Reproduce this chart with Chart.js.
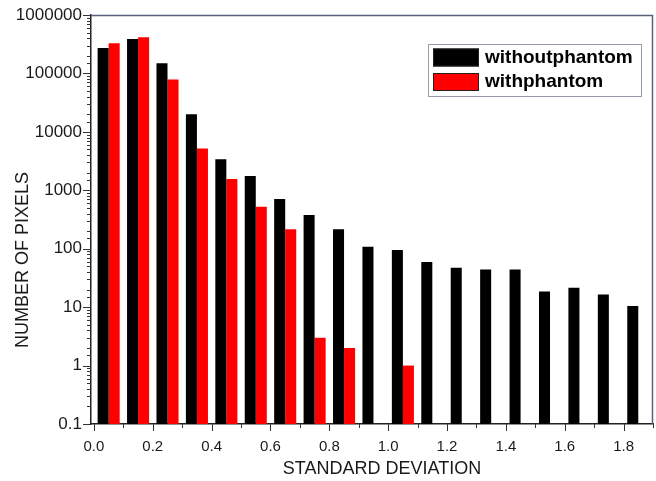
<!DOCTYPE html>
<html>
<head>
<meta charset="utf-8">
<script src="https://cdn.jsdelivr.net/npm/chart.js@4.4.1/dist/chart.umd.min.js"></script>
<style>
  html, body { margin: 0; padding: 0; background: #ffffff; }
  #wrap { width: 656px; height: 481px; position: relative; }
</style>
</head>
<body>
<div id="wrap"><canvas id="c" width="656" height="481"></canvas></div>
<script>
// ---- data ----
const categories = [0.05, 0.15, 0.25, 0.35, 0.45, 0.55, 0.65, 0.75, 0.85, 0.95,
                    1.05, 1.15, 1.25, 1.35, 1.45, 1.55, 1.65, 1.75, 1.85];
const withoutPhantom = [272000, 388000, 149000, 20000, 3400, 1750, 710, 378, 215, 108,
                        95, 59, 47, 44, 44, 18.5, 21.5, 16.5, 10.5];
const withPhantom = [327000, 415000, 79000, 5200, 1560, 525, 215, 3, 2, null,
                     1, null, null, null, null, null, null, null, null];
const seriesLabels = ['withoutphantom', 'withphantom'];
const yTickValues = [0.1, 1, 10, 100, 1000, 10000, 100000, 1000000];
const xTickLabels = ['0.0', '0.2', '0.4', '0.6', '0.8', '1.0', '1.2', '1.4', '1.6', '1.8'];
const xTitle = 'STANDARD DEVIATION';
const yTitle = 'NUMBER OF PIXELS';

const FONT = "'Liberation Sans', Arial, Helvetica, sans-serif";

function toPoints(vals) {
  return categories.map((c, i) => ({ x: c, y: vals[i] }));
}
function isMajorY(v) {
  return yTickValues.some(t => Math.abs(t - v) < t * 1e-6);
}
function xLabelFor(v) {
  const l = xTickLabels.find(s => Math.abs(parseFloat(s) - v) < 1e-6);
  return l === undefined ? null : l;
}

const decorPlugin = {
  id: 'decor',
  afterDraw(chart) {
    const ctx = chart.ctx;
    const a = chart.chartArea;
    const xs = chart.scales.x, ys = chart.scales.y;
    ctx.save();
    // frame (top & right)
    ctx.strokeStyle = '#5a5f7e';
    ctx.lineWidth = 1.5;
    ctx.beginPath();
    ctx.moveTo(a.left, a.top + 0.5);
    ctx.lineTo(a.right - 0.5, a.top + 0.5);
    ctx.lineTo(a.right - 0.5, a.bottom);
    ctx.stroke();
    // tick marks
    ctx.strokeStyle = '#333';
    ctx.lineWidth = 1;
    ctx.beginPath();
    ys.ticks.forEach(t => {
      const py = Math.round(ys.getPixelForValue(t.value)) + 0.5;
      const len = isMajorY(t.value) ? 8 : 4;
      ctx.moveTo(a.left, py);
      ctx.lineTo(a.left - len, py);
    });
    xs.ticks.forEach(t => {
      if (t.value < 0) return;
      const px = Math.round(xs.getPixelForValue(t.value)) + 0.5;
      const len = xLabelFor(t.value) !== null ? 7 : 4;
      ctx.moveTo(px, a.bottom);
      ctx.lineTo(px, a.bottom + len);
    });
    ctx.stroke();
    // axis titles
    ctx.fillStyle = '#1a1a1a';
    ctx.font = '18px ' + FONT;
    ctx.textAlign = 'center';
    ctx.textBaseline = 'middle';
    ctx.fillText(xTitle, 382, 469);
    ctx.save();
    ctx.translate(23, 260);
    ctx.rotate(-Math.PI / 2);
    ctx.fillText(yTitle, 0, 0);
    ctx.restore();
    // legend
    const bx = a.right - 225, by = a.top + 29, bw = 213, bh = 52;
    ctx.fillStyle = '#ffffff';
    ctx.fillRect(bx, by, bw, bh);
    ctx.strokeStyle = '#9a9aae';
    ctx.lineWidth = 1;
    ctx.strokeRect(bx + 0.5, by + 0.5, bw, bh);
    ctx.font = 'bold 19px ' + FONT;
    ctx.textAlign = 'left';
    ctx.textBaseline = 'middle';
    chart.data.datasets.forEach((ds, i) => {
      const sy = by + 4.5 + i * 24.5;
      ctx.fillStyle = ds.backgroundColor;
      ctx.fillRect(bx + 5, sy, 46, 18);
      ctx.strokeStyle = '#222';
      ctx.strokeRect(bx + 5.5, sy + 0.5, 45, 17);
      ctx.fillStyle = '#000';
      ctx.fillText(ds.label, bx + 57, sy + 9);
    });
    ctx.restore();
  }
};

new Chart(document.getElementById('c'), {
  type: 'bar',
  data: {
    datasets: [
      { label: seriesLabels[0], data: toPoints(withoutPhantom), backgroundColor: '#000000',
        borderWidth: 0, categoryPercentage: 0.75, barPercentage: 1.0 },
      { label: seriesLabels[1], data: toPoints(withPhantom), backgroundColor: '#ff0000',
        borderWidth: 0, categoryPercentage: 0.75, barPercentage: 1.0 }
    ]
  },
  options: {
    responsive: false,
    animation: false,
    layout: { padding: { top: 15, right: 3, left: 0, bottom: 0 } },
    plugins: { legend: { display: false }, tooltip: { enabled: false } },
    scales: {
      x: {
        type: 'linear',
        min: -0.01,
        max: 1.9,
        offset: false,
        grid: { display: false, drawTicks: false },
        border: { display: true, color: '#222', width: 1.5 },
        ticks: {
          stepSize: 0.1,
          includeBounds: false,
          autoSkip: false,
          maxRotation: 0,
          padding: 14,
          color: '#1a1a1a',
          font: { family: FONT, size: 15 },
          callback: (v) => { const l = xLabelFor(v); return l === null ? '' : l; }
        },
        afterFit: (s) => { s.height = 57; s.paddingLeft = 0; s.paddingRight = 0; }
      },
      y: {
        type: 'logarithmic',
        min: 0.1,
        max: 1000000,
        grid: { display: false, drawTicks: false },
        border: { display: true, color: '#222', width: 1.5 },
        ticks: {
          autoSkip: false,
          padding: 9,
          color: '#1a1a1a',
          font: { family: FONT, size: 17 },
          callback: (v) => {
            const t = yTickValues.find(tv => Math.abs(tv - v) < tv * 1e-6);
            return t === undefined ? '' : String(t);
          }
        },
        afterFit: (s) => { s.width = 91; s.paddingTop = 0; s.paddingBottom = 0; }
      }
    }
  },
  plugins: [decorPlugin]
});
</script>
</body>
</html>
